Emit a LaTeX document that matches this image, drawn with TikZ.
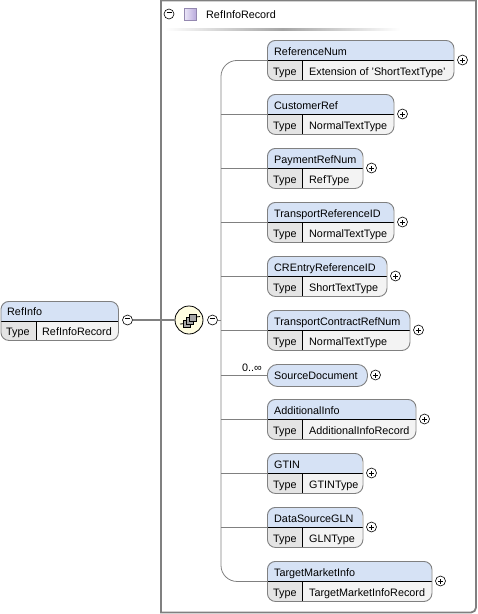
\documentclass[tikz,border=0pt]{standalone}
\usepackage{fontspec}
\setmainfont{Liberation Sans}
\usepackage{tikz}
\usetikzlibrary{positioning}
\definecolor{headblue}{RGB}{214,226,245}
\definecolor{rowgray}{RGB}{243,243,243}
\definecolor{typegray}{RGB}{228,228,228}
\definecolor{framegray}{RGB}{128,128,128}
\definecolor{seqcream}{RGB}{255,253,225}
\definecolor{swatchlight}{RGB}{235,230,248}
\definecolor{swatchdark}{RGB}{185,170,220}
\begin{document}
\begin{tikzpicture}[
    x=1pt, y=-1pt,
    elem/.style={rectangle, draw=framegray, rounded corners=8pt, line width=0.9pt, inner sep=0pt, anchor=north west},
    label/.style={font=\fontsize{10.8}{12}\selectfont, inner sep=0pt, anchor=base west},
    toggle/.style={circle, draw=black, fill=white, line width=0.6pt, minimum size=10pt, inner sep=0pt},
    wire/.style={draw=framegray, line width=0.8pt},
    cubebox/.style={draw=black, fill=gray!70, line width=0.5pt, minimum size=6.5pt, inner sep=0pt}
]
\useasboundingbox (0,0) rectangle (478,614);
\draw[draw=framegray, line width=1.8pt, rounded corners=5pt] (161,0.5) -- (161,0.5) [sharp corners] -- (161,612.5) -- (470,612.5) [rounded corners=5pt] -- (476,612.5) -- (476,600) [sharp corners] -- (476,0.5) -- cycle;
% header of the complex type
\node[toggle] (rectoggle) at (169,14) {};
\node[draw=swatchdark!80!black, left color=swatchlight, right color=swatchdark, anchor=north west, minimum size=12pt, inner sep=0pt] (swatch) at (184,8) {};
\node[label] (rectitle) at (206,18) {RefInfoRecord};
\shade[left color=white, right color=white, middle color=gray!70] (165,28) rectangle (400,30);
% root element
\begin{scope}
\clip[rounded corners=8pt] (0.5,301) rectangle (118,340);
\fill[headblue] (0.5,301) rectangle (118,321);
\fill[rowgray] (0.5,321) rectangle (118,340);
\fill[typegray] (0.5,321) rectangle (36,340);
\end{scope}
\draw[line width=0.8pt] (0.5,321) -- (118,321) (36,321) -- (36,340);
\node[elem, minimum width=117.5pt, minimum height=39pt] (root) at (0.5,301) {};
\node[label] (roottitle) at (7,315) {RefInfo};
\node[label] (roottype) at (6,335) {Type};
\node[label] (rootvalue) at (42,335) {RefInfoRecord};
\node[toggle] (roottoggle) at (127.5,320) {};
\node[circle, draw=black, fill=seqcream, line width=0.8pt, minimum size=28pt, inner sep=0pt] (seq) at (189,320) {};
\node[cubebox] (cubea) at (186.5,323.5) {};
\node[cubebox] (cubeb) at (189.5,320.5) {};
\node[cubebox] (cubec) at (192.5,317.5) {};
\draw[line width=0.8pt] (180,324) -- (cubea) (cubec) -- (200,316.5);
\node[toggle] (seqtoggle) at (212.5,320) {};
\coordinate (spine) at (221,320);
\draw[draw=framegray, line width=1.6pt] (roottoggle) -- (seq);
\draw[wire] (seqtoggle) -- (spine);
% children of the sequence
\foreach \top/\right/\name/\kind/\tname in {
    40/454/refnum/ReferenceNum/Extension of 'ShortTextType',
    94/394/custref/CustomerRef/NormalTextType,
    148/363/payref/PaymentRefNum/RefType,
    202/394/transref/TransportReferenceID/NormalTextType,
    256/387/crentry/CREntryReferenceID/ShortTextType,
    310/410/contract/TransportContractRefNum/NormalTextType,
    399/416/addinfo/AdditionalInfo/AdditionalInfoRecord,
    453/363/gtin/GTIN/GTINType,
    507/363/gln/DataSourceGLN/GLNType,
    561/432/market/TargetMarketInfo/TargetMarketInfoRecord}
{
    \pgfmathsetmacro{\wid}{\right-267.5}
    \begin{scope}
    \clip[rounded corners=8pt] (267,\top) rectangle (\right-0.5,\top+40);
    \fill[headblue] (267,\top) rectangle (\right,\top+20);
    \fill[rowgray] (267,\top+20) rectangle (\right,\top+40);
    \fill[typegray] (267,\top+20) rectangle (302.5,\top+40);
    \end{scope}
    \draw[line width=0.8pt] (267,\top+20) -- (\right-0.5,\top+20) (302.5,\top+20) -- (302.5,\top+40);
    \node[elem, minimum width=\wid pt, minimum height=40pt] (\name) at (267,\top) {};
    \node[label] (\name-title) at (274,\top+15) {\kind};
    \node[label] (\name-type) at (273,\top+35) {Type};
    \node[label] (\name-value) at (309,\top+35) {\tname};
    \node[toggle] (\name-toggle) at (\right+8.5,\top+20) {};
}
% the one child with no type row
\node[elem, fill=headblue, rounded corners=10pt, minimum width=100pt, minimum height=22pt] (srcdoc) at (267,364) {};
\node[label] (srcdoc-title) at (274,379.5) {SourceDocument};
\node[toggle] (srcdoc-toggle) at (375.5,375) {};
\node[label, anchor=base east] (srcdoc-occ) at (262,371) {0..∞};
\draw[wire, rounded corners=16pt] (refnum.west) -- (refnum.west -| spine) -- (market.west -| spine) -- (market.west);
\foreach \name in {custref,payref,transref,crentry,contract,srcdoc,addinfo,gtin,gln}
    \draw[wire] (\name.west -| spine) -- (\name.west);
\node[inner sep=0pt] (recminus) at (169,14) {\rule[2.5pt]{5pt}{0.7pt}};
\node[inner sep=0pt] (rootminus) at (127.5,320) {\rule[2.5pt]{5pt}{0.7pt}};
\node[inner sep=0pt] (seqminus) at (212.5,320) {\rule[2.5pt]{5pt}{0.7pt}};
\foreach \name in {refnum,custref,payref,transref,crentry,contract,srcdoc,addinfo,gtin,gln,market}
    \draw[line width=0.7pt] ([xshift=-2.5pt]\name-toggle.center) -- ([xshift=2.5pt]\name-toggle.center)
        ([yshift=-2.5pt]\name-toggle.center) -- ([yshift=2.5pt]\name-toggle.center);
\end{tikzpicture}
\end{document}
